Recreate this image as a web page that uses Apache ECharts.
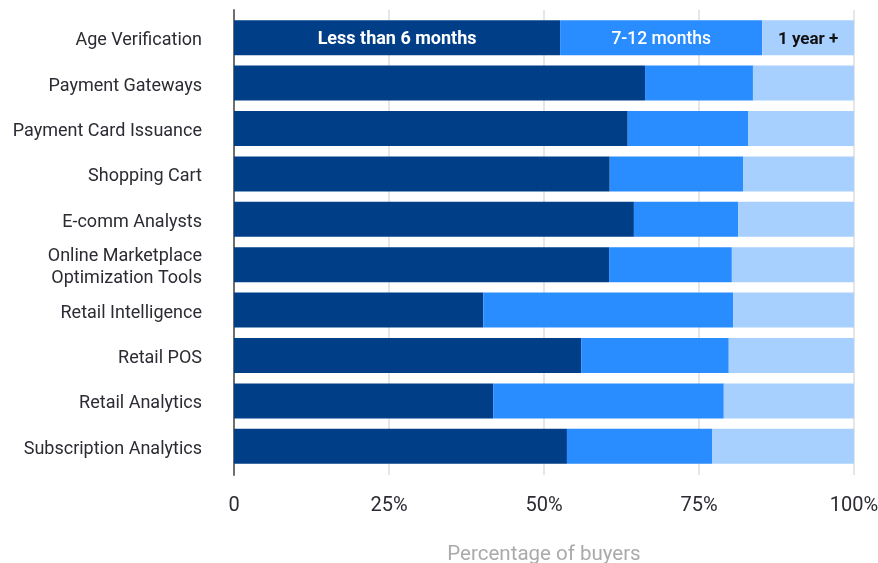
<!DOCTYPE html>
<html>
<head>
<meta charset="utf-8">
<script src="https://cdn.jsdelivr.net/npm/echarts@6/dist/echarts.min.js"></script>
<style>
  html, body { margin: 0; padding: 0; background: #ffffff; }
  #chart { width: 878px; height: 563px; }
</style>
</head>
<body>
<div id="chart"></div>
<script>
// Buyers' time to purchase, by product category (share of buyers, %)
const categories = [
  'Age Verification',
  'Payment Gateways',
  'Payment Card Issuance',
  'Shopping Cart',
  'E-comm Analysts',
  'Online Marketplace\nOptimization Tools',
  'Retail Intelligence',
  'Retail POS',
  'Retail Analytics',
  'Subscription Analytics'
];
const seriesNames = ['Less than 6 months', '7-12 months', '1 year +'];
const lessThan6 = [52.6, 66.3, 63.5, 60.6, 64.5, 60.5, 40.2, 56.0, 41.8, 53.7];
const months7to12 = [32.6, 17.4, 19.4, 21.5, 16.8, 19.8, 40.3, 23.8, 37.2, 23.4];
const yearPlus = [14.8, 16.3, 17.1, 17.9, 18.7, 19.7, 19.5, 20.2, 21.0, 22.9];
const xTicks = [0, 25, 50, 75, 100];

const FONT = 'Roboto';
const colors = ['#003f88', '#298cff', '#a8d0fe'];
const labelColors = ['#ffffff', '#ffffff', '#111111'];
const labelSizes = [18, 17.5, 17];
const labelWeights = ['bold', 500, 'bold'];
const valueSets = [lessThan6, months7to12, yearPlus];

function buildSeries(i) {
  return {
    name: seriesNames[i],
    type: 'bar',
    stack: 'total',
    xAxisIndex: 0,
    yAxisIndex: 0,
    barCategoryGap: '23%',
    itemStyle: { color: colors[i] },
    z: 3,
    data: valueSets[i].map((v, idx) => {
      const item = { value: v };
      if (idx === 0) {
        item.label = {
          show: true,
          position: 'inside',
          offset: [0, 2],
          formatter: seriesNames[i],
          color: labelColors[i],
          fontFamily: FONT,
          fontSize: labelSizes[i],
          fontWeight: labelWeights[i]
        };
      }
      return item;
    })
  };
}

const hiddenValueAxis = gridIndex => ({
  type: 'value',
  gridIndex,
  min: 0,
  max: 100,
  interval: 25,
  show: false
});

const chart = echarts.init(document.getElementById('chart'), null, { renderer: 'canvas' });
chart.setOption({
  backgroundColor: '#ffffff',
  animation: false,
  textStyle: { fontFamily: FONT },
  grid: [
    // bars
    { left: 234, right: 24, top: 15, bottom: 94, containLabel: false, outerBoundsMode: 'none' },
    // gridlines and the left axis line
    { left: 234, right: 24, top: 10, bottom: 88, containLabel: false, outerBoundsMode: 'none' },
    // category names
    { left: 234, right: 24, top: 18, bottom: 91, containLabel: false, outerBoundsMode: 'none' }
  ],
  xAxis: [
    {
      type: 'value',
      gridIndex: 0,
      min: 0,
      max: 100,
      interval: 25,
      axisLine: { show: false },
      axisTick: { show: false },
      splitLine: { show: false },
      axisLabel: {
        margin: 27,
        color: '#2b2b33',
        fontSize: 20,
        fontFamily: FONT,
        formatter: v => (v === 0 ? '0' : v + '%')
      },
      name: 'Percentage of buyers',
      nameLocation: 'middle',
      nameGap: 75,
      nameTextStyle: { color: '#aaaaaa', fontSize: 20.5, fontFamily: FONT }
    },
    {
      type: 'value',
      gridIndex: 1,
      min: 0,
      max: 100,
      interval: 25,
      axisLine: { show: false },
      axisTick: { show: false },
      axisLabel: { show: false },
      splitLine: { show: true, lineStyle: { color: '#e6e6e6', width: 2 } }
    },
    hiddenValueAxis(2)
  ],
  yAxis: [
    {
      type: 'category',
      gridIndex: 0,
      inverse: true,
      data: categories,
      axisLine: { show: false },
      axisTick: { show: false },
      axisLabel: { show: false }
    },
    {
      type: 'category',
      gridIndex: 1,
      data: [''],
      axisLine: { show: true, lineStyle: { color: '#6e6e6e', width: 2 } },
      axisTick: { show: false },
      axisLabel: { show: false },
      splitLine: { show: false }
    },
    {
      type: 'category',
      gridIndex: 2,
      inverse: true,
      data: categories,
      axisLine: { show: false },
      axisTick: { show: false },
      splitLine: { show: false },
      axisLabel: {
        margin: 32,
        color: '#2b2b33',
        fontSize: 18,
        lineHeight: 22,
        fontFamily: FONT
      }
    }
  ],
  series: [0, 1, 2].map(buildSeries)
});
</script>
</body>
</html>
